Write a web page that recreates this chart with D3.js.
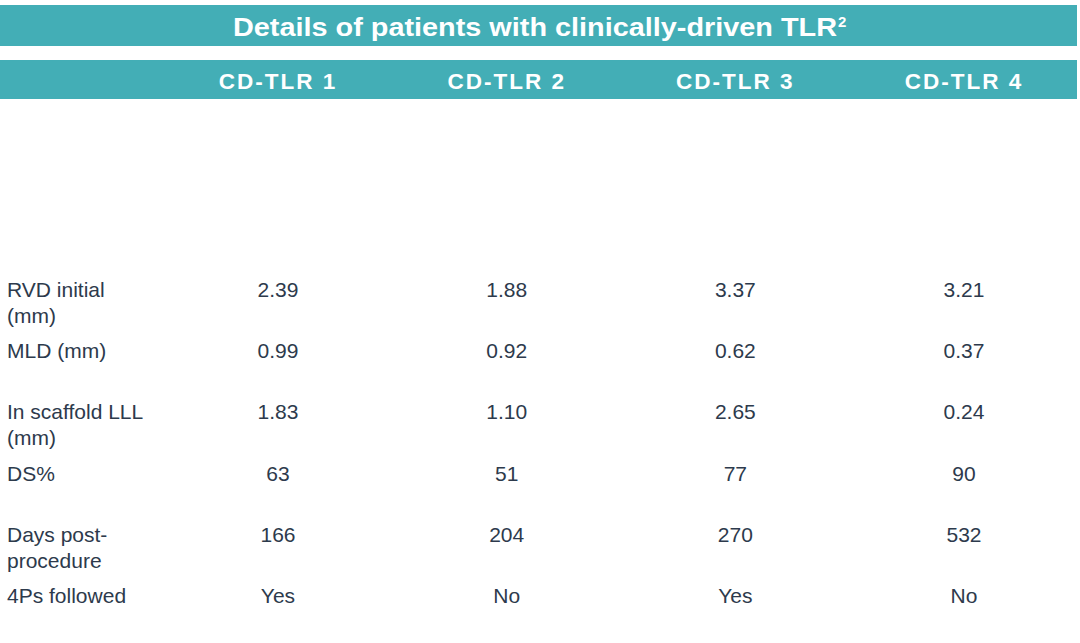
<!DOCTYPE html>
<html>
<head>
<meta charset="utf-8">
<script src="https://cdn.jsdelivr.net/npm/d3@7"></script>
<style>
  html, body { margin: 0; padding: 0; background: #ffffff; }
  svg { display: block; }
</style>
</head>
<body>
<svg id="chart" width="1080" height="643"></svg>
<script>
const title = "Details of patients with clinically-driven TLR";
const titleSup = "2";
const columns = ["CD-TLR 1", "CD-TLR 2", "CD-TLR 3", "CD-TLR 4"];
const rowLabels = [
  ["RVD initial", "(mm)"],
  ["MLD (mm)"],
  ["In scaffold LLL", "(mm)"],
  ["DS%"],
  ["Days post-", "procedure"],
  ["4Ps followed"]
];
const tlr1 = ["2.39", "0.99", "1.83", "63", "166", "Yes"];
const tlr2 = ["1.88", "0.92", "1.10", "51", "204", "No"];
const tlr3 = ["3.37", "0.62", "2.65", "77", "270", "Yes"];
const tlr4 = ["3.21", "0.37", "0.24", "90", "532", "No"];
const seriesValues = [tlr1, tlr2, tlr3, tlr4];

const svg = d3.select("#chart");
const teal = "#43aeb6";
const textColor = "#2d3a4c";
const font = "'Liberation Sans', Arial, sans-serif";

// Bars
svg.append("rect").attr("x", 0).attr("y", 5).attr("width", 1077).attr("height", 41).attr("fill", teal);
svg.append("rect").attr("x", 0).attr("y", 60).attr("width", 1077).attr("height", 39).attr("fill", teal);

// Title
svg.append("text")
  .attr("x", 233).attr("y", 36)
  .attr("fill", "#ffffff")
  .attr("font-family", font)
  .attr("font-weight", "bold")
  .attr("font-size", 26)
  .attr("textLength", 604)
  .attr("lengthAdjust", "spacingAndGlyphs")
  .text(title);
svg.append("text")
  .attr("x", 838).attr("y", 27)
  .attr("fill", "#ffffff")
  .attr("font-family", font)
  .attr("font-weight", "bold")
  .attr("font-size", 15)
  .text(titleSup);

// Scales
const x = d3.scalePoint().domain(columns).range([278, 964]);
const y = d3.scalePoint().domain(d3.range(rowLabels.length)).range([297, 603]);

// Header
svg.append("g").selectAll("text").data(columns).join("text")
  .attr("x", d => x(d)).attr("y", 89)
  .attr("text-anchor", "middle")
  .attr("fill", "#ffffff")
  .attr("font-family", font)
  .attr("font-weight", "bold")
  .attr("font-size", 22.5)
  .attr("letter-spacing", 2)
  .text(d => d);

// Row labels
const lbl = svg.append("g").selectAll("text").data(rowLabels).join("text")
  .attr("x", 7).attr("y", (d, i) => y(i))
  .attr("fill", textColor)
  .attr("font-family", font)
  .attr("font-size", 21);
lbl.selectAll("tspan").data(d => d).join("tspan")
  .attr("x", 7)
  .attr("dy", (d, i) => i === 0 ? 0 : 26)
  .text(d => d);

// Values
columns.forEach((c, ci) => {
  svg.append("g").selectAll("text").data(seriesValues[ci]).join("text")
    .attr("x", x(c)).attr("y", (d, i) => y(i))
    .attr("text-anchor", "middle")
    .attr("fill", textColor)
    .attr("font-family", font)
    .attr("font-size", 21)
    .text(d => d);
});
</script>
</body>
</html>
